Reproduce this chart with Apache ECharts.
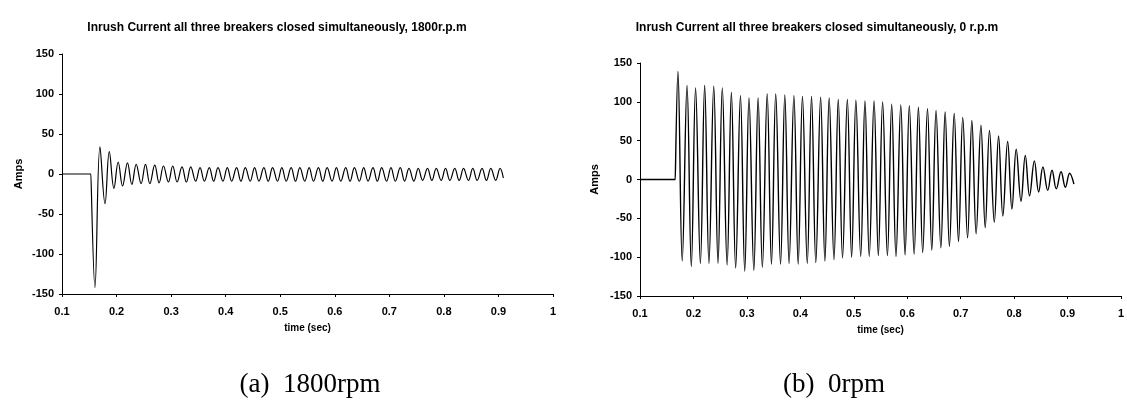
<!DOCTYPE html>
<html>
<head>
<meta charset="utf-8">
<script src="https://cdn.jsdelivr.net/npm/echarts@6/dist/echarts.min.js"></script>
<style>
html,body{margin:0;padding:0;background:#fff;}
#chart{width:1127px;height:407px;}
</style>
</head>
<body>
<div id="chart"></div>
<script>
// ---- Data ----
const xTicks = [0.1, 0.2, 0.3, 0.4, 0.5, 0.6, 0.7, 0.8, 0.9, 1];
const yTicks = [-150, -100, -50, 0, 50, 100, 150];

// (a) 1800 rpm : transient before steady oscillation
const leftStartTimes = [0.1, 0.153, 0.154, 0.1604, 0.1696, 0.1788, 0.1867, 0.1952];
const leftStartAmps  = [0, 0, 0, -142, 34, -37, 28, -18];
// steady-state crests
const leftPeakTimes = [0.203, 0.220, 0.236, 0.253, 0.270, 0.286, 0.303, 0.320, 0.336, 0.353,
  0.370, 0.386, 0.403, 0.420, 0.436, 0.453, 0.470, 0.486, 0.503, 0.520,
  0.536, 0.553, 0.570, 0.586, 0.603, 0.620, 0.636, 0.653, 0.670, 0.686,
  0.703, 0.720, 0.736, 0.753, 0.770, 0.786, 0.803, 0.820, 0.836, 0.853,
  0.870, 0.886, 0.903];
const leftPeakAmps = [15, 14, 12, 12, 11, 10, 10, 9, 9, 8,
  8, 8, 8, 8, 8, 8, 8, 8, 8, 8,
  8, 8, 8, 8, 8, 8, 8, 8, 8, 8,
  8, 8, 7, 7, 7, 7, 7, 7, 7, 7,
  7, 7, 7];
// steady-state troughs
const leftTroughTimes = [0.211, 0.228, 0.245, 0.261, 0.278, 0.295, 0.311, 0.328, 0.345, 0.361,
  0.378, 0.395, 0.411, 0.428, 0.445, 0.461, 0.478, 0.495, 0.511, 0.528,
  0.545, 0.561, 0.578, 0.595, 0.611, 0.628, 0.645, 0.661, 0.678, 0.695,
  0.711, 0.728, 0.745, 0.761, 0.778, 0.795, 0.811, 0.828, 0.845, 0.861,
  0.878, 0.895];
const leftTroughAmps = [-15, -13, -12, -12, -11, -10, -10, -10, -9, -9,
  -9, -9, -9, -9, -9, -9, -9, -9, -9, -9,
  -9, -9, -9, -9, -9, -9, -9, -9, -9, -9,
  -9, -9, -9, -8, -8, -8, -8, -8, -8, -8,
  -8, -8];
const leftEndTimes = [0.909];
const leftEndAmps = [-5];

// (b) 0 rpm
const rightStartTimes = [0.1, 0.166, 0.1665];
const rightStartAmps  = [0, 0, 0];
const rightPeakTimes = [0.171, 0.188, 0.204, 0.221, 0.238, 0.254, 0.271, 0.288, 0.304, 0.321,
  0.338, 0.354, 0.371, 0.388, 0.404, 0.421, 0.438, 0.454, 0.471, 0.488,
  0.504, 0.521, 0.538, 0.554, 0.571, 0.588, 0.604, 0.621, 0.638, 0.654,
  0.671, 0.688, 0.704, 0.721, 0.738, 0.754, 0.771, 0.788, 0.804, 0.821,
  0.838, 0.854, 0.871, 0.888, 0.904];
const rightPeakAmps = [139, 121, 118, 121, 120, 118, 112, 108, 105, 105,
  110, 110, 109, 108, 107, 107, 106, 105, 103, 103,
  102, 101, 101, 100, 97, 96, 95, 93, 91, 89,
  87, 85, 80, 76, 70, 63, 56, 49, 39, 31,
  24, 16, 12, 10, 8];
const rightTroughTimes = [0.179, 0.196, 0.213, 0.229, 0.246, 0.263, 0.279, 0.296, 0.313, 0.329,
  0.346, 0.363, 0.379, 0.396, 0.413, 0.429, 0.446, 0.463, 0.479, 0.496,
  0.513, 0.529, 0.546, 0.563, 0.579, 0.596, 0.613, 0.629, 0.646, 0.663,
  0.679, 0.696, 0.713, 0.729, 0.746, 0.763, 0.779, 0.796, 0.813, 0.829,
  0.846, 0.863, 0.879, 0.896];
const rightTroughAmps = [-105, -112, -108, -108, -108, -110, -114, -118, -117, -113,
  -109, -109, -108, -109, -108, -107, -105, -103, -101, -100,
  -99, -99, -98, -98, -99, -97, -96, -94, -91, -88,
  -86, -80, -75, -70, -62, -55, -47, -38, -28, -21,
  -16, -14, -12, -10];
const rightEndTimes = [0.912];
const rightEndAmps = [-6];

const titles = [
  'Inrush Current all three breakers closed simultaneously, 1800r.p.m',
  'Inrush Current all three breakers closed simultaneously, 0 r.p.m'
];
const captions = ['(a)  1800rpm', '(b)  0rpm'];

// ---- build series data ----
function merge(groups) {
  const pts = [];
  groups.forEach(([ts, vs]) => ts.forEach((t, i) => pts.push([t, vs[i]])));
  pts.sort((a, b) => a[0] - b[0]);
  return pts;
}
const leftData = merge([[leftStartTimes, leftStartAmps], [leftPeakTimes, leftPeakAmps],
  [leftTroughTimes, leftTroughAmps], [leftEndTimes, leftEndAmps]]);
const rightData = merge([[rightStartTimes, rightStartAmps], [rightPeakTimes, rightPeakAmps],
  [rightTroughTimes, rightTroughAmps], [rightEndTimes, rightEndAmps]]);

const FONT = 'Liberation Sans, Arial, sans-serif';
const SERIF = 'Liberation Serif, Times New Roman, serif';
function xAx(gi) {
  return {
    type: 'value', gridIndex: gi, min: xTicks[0], max: xTicks[xTicks.length - 1], interval: 0.1,
    name: 'time (sec)', nameLocation: 'middle', nameGap: 29,
    nameTextStyle: {fontFamily: FONT, fontWeight: 'bold', fontSize: 10, color: '#000'},
    axisLine: {show: true, onZero: false, lineStyle: {color: '#000', width: 1}},
    splitLine: {show: false},
    axisTick: {show: true, length: 3, inside: false, lineStyle: {color: '#000'}},
    axisLabel: {fontFamily: FONT, fontWeight: 'bold', fontSize: 11, color: '#000', margin: 12,
      formatter: v => String(Math.round(v * 10) / 10)}
  };
}
function yAx(gi, gap) {
  return {
    type: 'value', gridIndex: gi, min: yTicks[0], max: yTicks[yTicks.length - 1], interval: 50,
    name: 'Amps', nameLocation: 'middle', nameGap: gap, nameRotate: 90,
    nameTextStyle: {fontFamily: FONT, fontWeight: 'bold', fontSize: 11, color: '#000'},
    axisLine: {show: true, onZero: false, lineStyle: {color: '#000', width: 1}},
    splitLine: {show: false},
    axisTick: {show: true, length: 3, lineStyle: {color: '#000'}},
    axisLabel: {fontFamily: FONT, fontWeight: 'bold', fontSize: 11, color: '#000', margin: 8}
  };
}

const chart = echarts.init(document.getElementById('chart'), null, {renderer: 'canvas'});
chart.setOption({
  backgroundColor: '#fff',
  animation: false,
  title: [
    {text: titles[0], left: 272, top: 17, textAlign: 'center',
     textStyle: {fontFamily: FONT, fontWeight: 'bold', fontSize: 12, color: '#000'}},
    {text: titles[1], left: 812, top: 17, textAlign: 'center',
     textStyle: {fontFamily: FONT, fontWeight: 'bold', fontSize: 12, color: '#000'}},
    {text: captions[0], left: 305, top: 366, textAlign: 'center',
     textStyle: {fontFamily: SERIF, fontWeight: 'normal', fontSize: 27, color: '#000'}},
    {text: captions[1], left: 829, top: 366, textAlign: 'center',
     textStyle: {fontFamily: SERIF, fontWeight: 'normal', fontSize: 27, color: '#000'}}
  ],
  grid: [
    {left: 62, right: 1127 - 553, top: 54, bottom: 407 - 294, containLabel: false},
    {left: 640, right: 1127 - 1123, top: 63, bottom: 407 - 296, containLabel: false}
  ],
  xAxis: [xAx(0), xAx(1)],
  yAxis: [yAx(0, 38), yAx(1, 40)],
  series: [
    {type: 'line', xAxisIndex: 0, yAxisIndex: 0, data: leftData, showSymbol: false,
     smooth: 0.4, lineStyle: {color: '#000', width: 1.2}},
    {type: 'line', xAxisIndex: 1, yAxisIndex: 1, data: rightData, showSymbol: false,
     smooth: 0.4, lineStyle: {color: '#000', width: 1.4}}
  ]
});
</script>
</body>
</html>
